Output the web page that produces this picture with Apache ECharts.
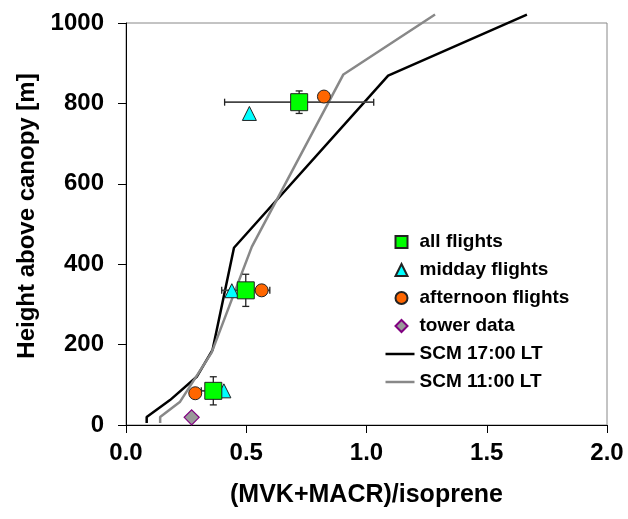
<!DOCTYPE html>
<html>
<head>
<meta charset="utf-8">
<script src="https://cdn.jsdelivr.net/npm/echarts@6/dist/echarts.min.js"></script>
<style>
  html, body { margin: 0; padding: 0; background: #fff; }
  #chart { width: 628px; height: 519px; }
</style>
</head>
<body>
<div id="chart"></div>
<script>
// flight data: ratio (x) vs height above canopy (y)
var allX = [0.363, 0.498, 0.72];
var allY = [85, 335, 803];
var allXErr = [0.05, 0.1, 0.31];
var allYErr = [35, 40, 28];

var middayX = [0.407, 0.44, 0.513];
var middayY = [85, 334, 775];

var afternoonX = [0.288, 0.564, 0.823];
var afternoonY = [79, 335, 817];

var towerX = [0.273];
var towerY = [19];

// model profiles
var scm17X = [0.086, 0.086, 0.183, 0.294, 0.36, 0.449, 1.09, 1.667];
var scm17Y = [5, 20, 62, 120, 187, 441, 869, 1021];
var scm11X = [0.142, 0.142, 0.225, 0.356, 0.523, 0.904, 1.285];
var scm11Y = [5, 20, 58, 180, 443, 872, 1021];

function pairs(xs, ys) {
    return xs.map(function (x, i) { return [x, ys[i]]; });
}

var errData = allX.map(function (x, i) {
    return [x, allY[i], allXErr[i], allYErr[i]];
});

function renderErr(params, api) {
    var x = api.value(0), y = api.value(1), ex = api.value(2), ey = api.value(3);
    var style = { stroke: '#222', lineWidth: 1.3 };
    var cap = 3.5;
    var kids = [];
    if (ex > 0) {
        var l = api.coord([x - ex, y]), r = api.coord([x + ex, y]);
        kids.push({ type: 'line', shape: { x1: l[0], y1: l[1], x2: r[0], y2: r[1] }, style: { stroke: '#444', lineWidth: 1.8 } });
        kids.push({ type: 'line', shape: { x1: l[0], y1: l[1] - cap, x2: l[0], y2: l[1] + cap }, style: style });
        kids.push({ type: 'line', shape: { x1: r[0], y1: r[1] - cap, x2: r[0], y2: r[1] + cap }, style: style });
    }
    if (ey > 0) {
        var t = api.coord([x, y + ey]), b = api.coord([x, y - ey]);
        kids.push({ type: 'line', shape: { x1: t[0], y1: t[1], x2: b[0], y2: b[1] }, style: style });
        kids.push({ type: 'line', shape: { x1: t[0] - cap, y1: t[1], x2: t[0] + cap, y2: t[1] }, style: style });
        kids.push({ type: 'line', shape: { x1: b[0] - cap, y1: b[1], x2: b[0] + cap, y2: b[1] }, style: style });
    }
    return { type: 'group', children: kids };
}

var font = 'Liberation Sans';
var legendText = { fontFamily: font, fontWeight: 'bold', fontSize: 19, color: '#000', lineHeight: 20 };

var myChart = echarts.init(document.getElementById('chart'));
var option = {
    animation: false,
    backgroundColor: '#fff',
    grid: {
        left: 126, right: 21, top: 23, bottom: 94,
        containLabel: false,
        outerBoundsMode: 'none',
        show: true,
        borderColor: '#888',
        borderWidth: 1
    },
    legend: [
        {
            // markers
            left: 389.5,
            top: 227,
            orient: 'vertical',
            itemWidth: 12,
            itemHeight: 12,
            itemGap: 8,
            symbolKeepAspect: true,
            textStyle: Object.assign({ padding: [0, 0, 0, 7] }, legendText),
            data: [
                { name: 'all flights', icon: 'rect' },
                { name: 'midday flights', icon: 'triangle' },
                { name: 'afternoon flights', icon: 'circle' },
                { name: 'tower data', icon: 'diamond' }
            ]
        },
        {
            // model lines
            left: 380.5,
            top: 339,
            orient: 'vertical',
            itemWidth: 29,
            itemHeight: 2.5,
            itemGap: 8,
            textStyle: legendText,
            data: [
                { name: 'SCM 17:00 LT', icon: 'rect' },
                { name: 'SCM 11:00 LT', icon: 'rect' }
            ]
        }
    ],
    xAxis: {
        type: 'value',
        min: 0, max: 2, interval: 0.5,
        name: '(MVK+MACR)/isoprene',
        nameLocation: 'middle',
        nameGap: 58,
        nameTextStyle: { fontFamily: font, fontWeight: 'bold', fontSize: 25, color: '#000' },
        axisLine: { lineStyle: { color: '#000', width: 1 } },
        axisTick: { inside: false, length: 8, lineStyle: { color: '#000' } },
        axisLabel: {
            margin: 16,
            fontFamily: font, fontWeight: 'bold', fontSize: 24, color: '#000',
            formatter: function (v) { return v.toFixed(1); }
        },
        splitLine: { show: false }
    },
    yAxis: {
        type: 'value',
        min: 0, max: 1000, interval: 200,
        name: 'Height above canopy [m]',
        nameLocation: 'middle',
        nameGap: 86,
        nameTextStyle: { fontFamily: font, fontWeight: 'bold', fontSize: 24, color: '#000', padding: [0, 0, 0, 16] },
        axisLine: { show: true, lineStyle: { color: '#000', width: 1 } },
        axisTick: { show: true, inside: false, length: 8, lineStyle: { color: '#000' } },
        axisLabel: {
            margin: 22, fontFamily: font, fontWeight: 'bold', fontSize: 24, color: '#000',
            formatter: function (v) { return String(v); }
        },
        splitLine: { show: false }
    },
    series: [
        {
            name: 'SCM 17:00 LT',
            type: 'line',
            data: pairs(scm17X, scm17Y),
            symbol: 'none',
            clip: false,
            z: 2,
            lineStyle: { color: '#000', width: 2.5 },
            itemStyle: { color: '#000' }
        },
        {
            name: 'SCM 11:00 LT',
            type: 'line',
            data: pairs(scm11X, scm11Y),
            symbol: 'none',
            clip: false,
            z: 2,
            lineStyle: { color: '#888', width: 2.5 },
            itemStyle: { color: '#888' }
        },
        {
            type: 'custom',
            name: 'errors',
            renderItem: renderErr,
            data: errData,
            encode: { x: 0, y: 1 },
            z: 3,
            silent: true
        },
        {
            name: 'midday flights',
            type: 'scatter',
            symbol: 'triangle',
            symbolSize: 14,
            data: pairs(middayX, middayY),
            z: 4,
            itemStyle: { color: '#00ffff', borderColor: '#222', borderWidth: 1, opacity: 1 }
        },
        {
            name: 'afternoon flights',
            type: 'scatter',
            symbol: 'circle',
            symbolSize: 13,
            data: pairs(afternoonX, afternoonY),
            z: 4,
            itemStyle: { color: '#ff6600', borderColor: '#222', borderWidth: 1, opacity: 1 }
        },
        {
            name: 'all flights',
            type: 'scatter',
            symbol: 'rect',
            symbolSize: 17,
            data: pairs(allX, allY),
            z: 5,
            itemStyle: { color: '#00ff00', borderColor: '#222', borderWidth: 1, opacity: 1 }
        },
        {
            name: 'tower data',
            type: 'scatter',
            symbol: 'diamond',
            symbolSize: 15,
            data: pairs(towerX, towerY),
            z: 4,
            itemStyle: { color: '#999999', borderColor: '#800080', borderWidth: 1.2, opacity: 1 }
        }
    ]
};
myChart.setOption(option);
</script>
</body>
</html>
